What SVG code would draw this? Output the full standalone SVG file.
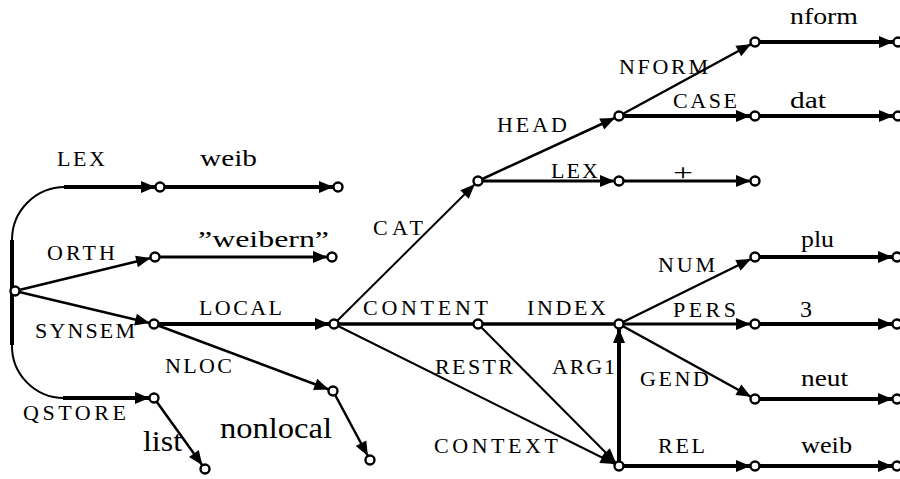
<svg xmlns="http://www.w3.org/2000/svg" width="900" height="479" viewBox="0 0 900 479">
<style>
  .e { stroke:#000; fill:none; stroke-width:2.5; marker-end:url(#ah); }
  .t { stroke-width:4; }
  .m { stroke-width:3.2; }
  .s { stroke-width:2; }
  .plain { stroke:#000; fill:none; }
  .n { fill:#fff; stroke:#000; stroke-width:2.4; }
  .lbl { font-size:22px; font-family:"Liberation Serif", "DejaVu Serif", serif; }
  .val { font-size:24px; font-family:"Liberation Serif", "DejaVu Serif", serif; }
  .big { font-size:30px; font-family:"Liberation Serif", "DejaVu Serif", serif; }
</style>
<defs>
  <marker id="ah" markerUnits="userSpaceOnUse" viewBox="-20 -7 20 14" refX="0" refY="0" markerWidth="20" markerHeight="14" orient="auto" overflow="visible">
    <path d="M-19,-6 L-4.5,0 L-19,6 z" fill="#000"/>
  </marker>
</defs>
<rect width="900" height="479" fill="#fff"/>
<g id="connectors">
  <path class="plain" stroke-width="4" d="M12,240 L12,345"/>
  <path class="plain" stroke-width="2" d="M12,240 A53,53 0 0 1 65,187"/>
  <path class="plain" stroke-width="2" d="M12,345 A52,52 0 0 0 64,398"/>
  <line class="e t" x1="64" y1="187" x2="160" y2="187"/>
  <line class="e t" x1="63" y1="398" x2="154" y2="398"/>
  <line class="e" x1="15" y1="291" x2="155" y2="257"/>
  <line class="e" x1="15" y1="291" x2="154" y2="324"/>
  <line class="e t" x1="160" y1="187" x2="338" y2="187"/>
  <line class="e m" x1="155" y1="257" x2="332" y2="257"/>
  <line class="e t" x1="154" y1="324" x2="334" y2="324"/>
  <line class="e" x1="154" y1="324" x2="333" y2="391"/>
  <line class="e" x1="154" y1="398" x2="205" y2="469"/>
  <line class="e" x1="333" y1="391" x2="370" y2="460"/>
  <line class="e s" x1="334" y1="324" x2="478" y2="181"/>
  <line class="plain" stroke-width="3.5" x1="334" y1="324" x2="619" y2="324"/>
  <line class="e s" x1="334" y1="324" x2="619" y2="466"/>
  <line class="e s" x1="478" y1="324" x2="619" y2="466"/>
  <line class="e t" x1="619" y1="466" x2="619" y2="324"/>
  <line class="e" x1="478" y1="181" x2="619" y2="116"/>
  <line class="e m" x1="478" y1="181" x2="619" y2="181"/>
  <line class="e m" x1="619" y1="181" x2="755" y2="181"/>
  <line class="e" x1="619" y1="116" x2="755" y2="42"/>
  <line class="e t" x1="619" y1="116" x2="755" y2="116"/>
  <line class="e t" x1="755" y1="116" x2="898" y2="116"/>
  <line class="e t" x1="755" y1="42" x2="898" y2="42"/>
  <line class="e" x1="619" y1="324" x2="755" y2="257"/>
  <line class="e m" x1="619" y1="324" x2="755" y2="324"/>
  <line class="e" x1="619" y1="324" x2="755" y2="399"/>
  <line class="e t" x1="755" y1="257" x2="897" y2="257"/>
  <line class="e t" x1="755" y1="324" x2="897" y2="324"/>
  <line class="e t" x1="755" y1="399" x2="897" y2="399"/>
  <line class="e t" x1="619" y1="466" x2="755" y2="466"/>
  <line class="e t" x1="755" y1="466" x2="897" y2="466"/>
</g>
<g id="labels" fill="#000">
  <text class="lbl" x="57" y="166" textLength="48" lengthAdjust="spacing">LEX</text>
  <text class="lbl" x="47" y="260" textLength="68" lengthAdjust="spacing">ORTH</text>
  <text class="lbl" x="35" y="338" textLength="100" lengthAdjust="spacing">SYNSEM</text>
  <text class="lbl" x="199" y="315" textLength="83" lengthAdjust="spacing">LOCAL</text>
  <text class="lbl" x="165" y="373" textLength="67" lengthAdjust="spacing">NLOC</text>
  <text class="lbl" x="23" y="420" textLength="103" lengthAdjust="spacing">QSTORE</text>
  <text class="lbl" x="373" y="235" textLength="50" lengthAdjust="spacing">CAT</text>
  <text class="lbl" x="363" y="315" textLength="125" lengthAdjust="spacing">CONTENT</text>
  <text class="lbl" x="527" y="315" textLength="79" lengthAdjust="spacing">INDEX</text>
  <text class="lbl" x="435" y="374" textLength="78" lengthAdjust="spacing">RESTR</text>
  <text class="lbl" x="552" y="374" textLength="63" lengthAdjust="spacing">ARG1</text>
  <text class="lbl" x="434" y="453" textLength="124" lengthAdjust="spacing">CONTEXT</text>
  <text class="lbl" x="497" y="132" textLength="70" lengthAdjust="spacing">HEAD</text>
  <text class="lbl" x="619" y="74" textLength="89" lengthAdjust="spacing">NFORM</text>
  <text class="lbl" x="673" y="108" textLength="64" lengthAdjust="spacing">CASE</text>
  <text class="lbl" x="551" y="178" textLength="47" lengthAdjust="spacing">LEX</text>
  <text class="lbl" x="658" y="272" textLength="57" lengthAdjust="spacing">NUM</text>
  <text class="lbl" x="673" y="317" textLength="63" lengthAdjust="spacing">PERS</text>
  <text class="lbl" x="640" y="386" textLength="69" lengthAdjust="spacing">GEND</text>
  <text class="lbl" x="658" y="453" textLength="47" lengthAdjust="spacing">REL</text>
  <text class="val" x="200" y="166" textLength="57" lengthAdjust="spacingAndGlyphs">weib</text>
  <text class="val" x="198" y="247" textLength="131" lengthAdjust="spacingAndGlyphs">”weibern”</text>
  <text class="big" x="143" y="451" textLength="39" lengthAdjust="spacingAndGlyphs">list</text>
  <text class="big" x="220" y="438" textLength="112" lengthAdjust="spacingAndGlyphs">nonlocal</text>
  <text class="val" x="790" y="24" textLength="68" lengthAdjust="spacingAndGlyphs">nform</text>
  <text class="val" x="790" y="108" textLength="36" lengthAdjust="spacingAndGlyphs">dat</text>
  <text class="val" x="673" y="180" textLength="20" lengthAdjust="spacingAndGlyphs">+</text>
  <text class="val" x="801" y="247" textLength="33" lengthAdjust="spacingAndGlyphs">plu</text>
  <text class="val" x="800" y="317" textLength="12" lengthAdjust="spacingAndGlyphs">3</text>
  <text class="val" x="801" y="386" textLength="47" lengthAdjust="spacingAndGlyphs">neut</text>
  <text class="val" x="801" y="453" textLength="51" lengthAdjust="spacingAndGlyphs">weib</text>
</g>
<g id="root"><circle class="n" cx="15" cy="291" r="4.5"/></g>
<g id="n-lex"><circle class="n" cx="160" cy="187" r="4.5"/></g>
<g id="n-weib"><circle class="n" cx="338" cy="187" r="4.5"/></g>
<g id="n-orth"><circle class="n" cx="155" cy="257" r="4.5"/></g>
<g id="n-weibern"><circle class="n" cx="332" cy="257" r="4.5"/></g>
<g id="n-synsem"><circle class="n" cx="154" cy="324" r="4.5"/></g>
<g id="n-local"><circle class="n" cx="334" cy="324" r="4.5"/></g>
<g id="n-qstore"><circle class="n" cx="154" cy="398" r="4.5"/></g>
<g id="n-list"><circle class="n" cx="205" cy="469" r="4.5"/></g>
<g id="n-nloc"><circle class="n" cx="333" cy="391" r="4.5"/></g>
<g id="n-nonlocal"><circle class="n" cx="370" cy="460" r="4.5"/></g>
<g id="n-cat"><circle class="n" cx="478" cy="181" r="4.5"/></g>
<g id="n-content"><circle class="n" cx="478" cy="324" r="4.5"/></g>
<g id="n-index"><circle class="n" cx="619" cy="324" r="4.5"/></g>
<g id="n-head"><circle class="n" cx="619" cy="116" r="4.5"/></g>
<g id="n-catlex"><circle class="n" cx="619" cy="181" r="4.5"/></g>
<g id="n-plus"><circle class="n" cx="755" cy="181" r="4.5"/></g>
<g id="n-nform"><circle class="n" cx="755" cy="42" r="4.5"/></g>
<g id="n-nformval"><circle class="n" cx="898" cy="42" r="4.5"/></g>
<g id="n-case"><circle class="n" cx="755" cy="116" r="4.5"/></g>
<g id="n-dat"><circle class="n" cx="898" cy="116" r="4.5"/></g>
<g id="n-num"><circle class="n" cx="755" cy="257" r="4.5"/></g>
<g id="n-plu"><circle class="n" cx="897" cy="257" r="4.5"/></g>
<g id="n-pers"><circle class="n" cx="755" cy="324" r="4.5"/></g>
<g id="n-three"><circle class="n" cx="897" cy="324" r="4.5"/></g>
<g id="n-gend"><circle class="n" cx="755" cy="399" r="4.5"/></g>
<g id="n-neut"><circle class="n" cx="897" cy="399" r="4.5"/></g>
<g id="n-context"><circle class="n" cx="619" cy="466" r="4.5"/></g>
<g id="n-rel"><circle class="n" cx="755" cy="466" r="4.5"/></g>
<g id="n-relval"><circle class="n" cx="897" cy="466" r="4.5"/></g>
</svg>
